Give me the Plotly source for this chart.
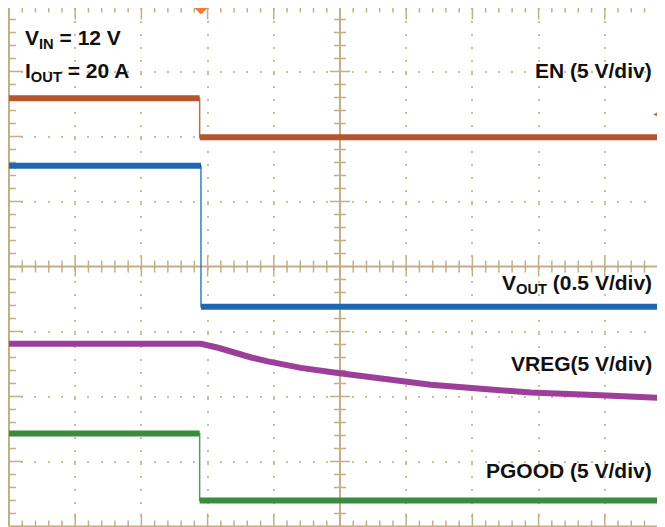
import plotly.graph_objects as go
import numpy as np

# ---- data (oscilloscope divisions; x: 10 div, y: 8 div centred on 0) ----
t_drop = 2.90  # trigger / EN falling edge (div)

en_t = [0.0, 2.88, 2.88, 10.0]
en_v = [2.59, 2.59, 1.99, 1.99]

vout_t = [0.0, 2.90, 2.90, 10.0]
vout_v = [1.55, 1.55, -0.62, -0.62]

vreg_t = [0.0, 2.90, 3.16, 3.40, 3.66, 3.91, 4.15, 4.41, 4.91, 5.62, 6.37, 7.13, 7.88, 8.94, 10.0]
vreg_v = [-1.19, -1.19, -1.25, -1.33, -1.40, -1.46, -1.51, -1.56, -1.63, -1.72, -1.82, -1.88, -1.94, -1.98, -2.03]

pg_t = [0.0, 2.88, 2.88, 10.0]
pg_v = [-2.57, -2.57, -3.60, -3.60]

labels = ["EN (5 V/div)", "V<sub>OUT</sub> (0.5 V/div)", "VREG(5 V/div)", "PGOOD (5 V/div)"]
label_y = [3.01, -0.27, -1.49, -3.14]
cond_labels = ["V<sub>IN</sub> = 12 V", "I<sub>OUT</sub> = 20 A"]
cond_y = [3.50, 2.99]

# ---- styling ----
# the page adds an 8 px body margin, so the figure covers the visible area only
W, H = 657, 519
PXX, PXY = 66.2, 65.0
x0 = -1 / PXX
x1 = x0 + W / PXX
y1 = 4 - 1.5 / PXY
y0 = y1 - H / PXY
TAN = "#c3ae85"
DOT = "#cdbd98"
FONT = "Liberation Sans, Arial, sans-serif"

fig = go.Figure()

# ---- graticule ticks and borders ----
sx, sy = [], []
def seg(xa, ya, xb, yb):
    sx.extend([xa, xb, None]); sy.extend([ya, yb, None])

steps_y = np.round(np.arange(-4, 4.001, 0.2), 2)
steps_x = np.round(np.arange(0, 10.001, 0.2), 2)
for v in steps_y:
    major = abs(v - round(v)) < 1e-6
    L = (14 if major else 7) / PXX
    seg(0, v, L, v)            # left border
    seg(10, v, 10 - L, v)      # right border
    c = (10 if major else 6) / PXX
    seg(5 - c, v, 5 + c, v)    # centre vertical
for u in steps_x:
    major = abs(u - round(u)) < 1e-6
    L = (13 if major else 6) / PXY
    seg(u, 4, u, 4 - L)        # top border
    seg(u, -4, u, -4 + L)      # bottom border
    c = (10 if major else 6) / PXY
    seg(u, -c, u, c)           # centre horizontal
fig.add_trace(go.Scatter(x=sx, y=sy, mode="lines", line=dict(color=TAN, width=1.5),
                         hoverinfo="skip", showlegend=False))
bx = [0, 0, None, 0, 10, None, 0, 10, None, 5, 5, None, 0, 10]
by = [-4, 4, None, 4, 4, None, -4, -4, None, -4, 4, None, 0, 0]
fig.add_trace(go.Scatter(x=bx, y=by, mode="lines", line=dict(color=TAN, width=2),
                         hoverinfo="skip", showlegend=False))

# ---- waveforms ----
def channel(t, v, color, step=True):
    fig.add_trace(go.Scatter(x=t, y=v, mode="lines", line=dict(color=color, width=1.5),
                             opacity=0.85, showlegend=False, hoverinfo="skip"))
    if step:
        tx = [t[0], t[1], None, t[2], t[3]]
        ty = [v[0], v[1], None, v[2], v[3]]
    else:
        tx, ty = t, v
    fig.add_trace(go.Scatter(x=tx, y=ty, mode="lines", line=dict(color=color, width=6),
                             showlegend=False, hoverinfo="skip"))

channel(en_t, en_v, "#b5542e")
channel(vout_t, vout_v, "#1f66b3")
channel(vreg_t, vreg_v, "#9b3f98", step=False)
channel(pg_t, pg_v, "#3a8b3d")

# ---- labels ----
ann = []
for txt, y in zip(labels, label_y):
    ann.append(dict(x=9.74, y=y, xref="x", yref="y", text="<b>" + txt + "</b>",
                    showarrow=False, xanchor="right", yanchor="middle",
                    font=dict(family=FONT, size=21, color="#111111")))
for txt, y in zip(cond_labels, cond_y):
    ann.append(dict(x=0.21, y=y, xref="x", yref="y", text="<b>" + txt + "</b>",
                    showarrow=False, xanchor="left", yanchor="middle",
                    font=dict(family=FONT, size=21, color="#111111")))
ann.append(dict(x=9.73, y=2.34, xref="x", yref="y", ax=18, ay=0, text="",
                showarrow=True, arrowhead=2, arrowsize=1, arrowwidth=1.5,
                arrowcolor="#c8643a"))

fig.update_layout(
    width=W, height=H,
    margin=dict(l=0, r=0, t=0, b=0, pad=0),
    paper_bgcolor="white", plot_bgcolor="white",
    annotations=ann,
    shapes=[dict(type="path", xref="x", yref="y",
                 path=f"M {t_drop-0.10},{y1} L {t_drop+0.10},{y1} L {t_drop},{y1-0.10} Z",
                 fillcolor="#f07c36", line=dict(width=0))],
    xaxis=dict(range=[x0, x1], tickmode="linear", tick0=0, dtick=1,
               showgrid=True, gridcolor=DOT, gridwidth=2, griddash="2px,11px",
               showticklabels=False, ticks="", zeroline=False, showline=False,
               fixedrange=True),
    yaxis=dict(range=[y0, y1], tickmode="linear", tick0=0, dtick=1,
               showgrid=True, gridcolor=DOT, gridwidth=2, griddash="2px,11.24px",
               showticklabels=False, ticks="", zeroline=False, showline=False,
               fixedrange=True),
)

fig.write_html("out.html")
